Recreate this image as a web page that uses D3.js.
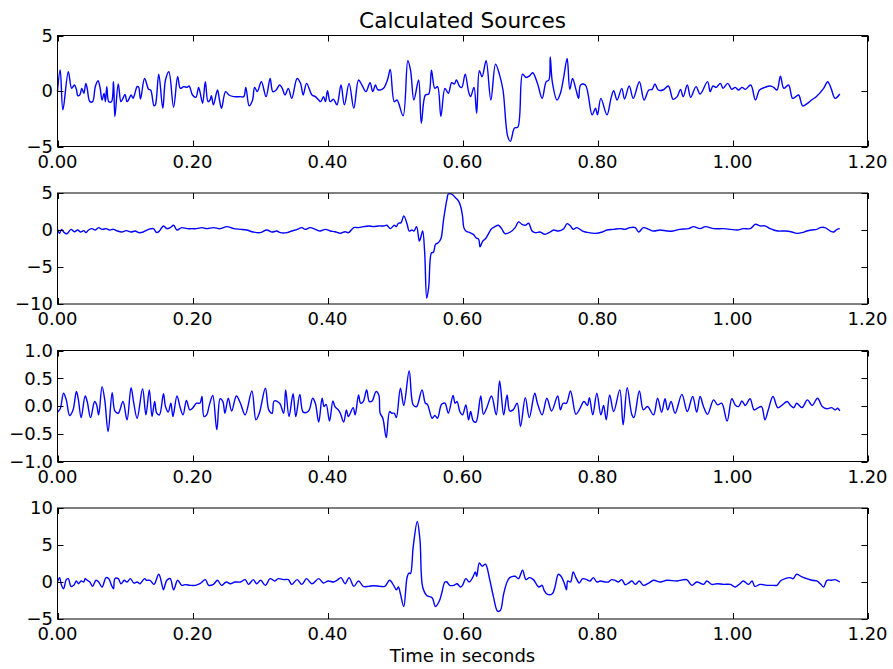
<!DOCTYPE html>
<html>
<head>
<meta charset="utf-8">
<script src="https://cdn.jsdelivr.net/npm/d3@7"></script>
<style>
  body { margin: 0; background: #fff; }
  svg text { font-family: "DejaVu Sans", sans-serif; fill: #000; }
</style>
</head>
<body>
<div id="chart"></div>
<script>
// ---- data ----
const titleText = "Calculated Sources";
const xLabelText = "Time in seconds";
const xTicks = [0, 0.2, 0.4, 0.6, 0.8, 1.0, 1.2];

const src1T = [0.000,0.004,0.008,0.016,0.021,0.025,0.028,0.030,0.033,0.036,0.039,0.042,0.044,0.048,0.052,0.056,0.060,0.063,0.066,0.069,0.071,0.073,0.076,0.080,0.083,0.085,0.090,0.094,0.097,0.100,0.103,0.106,0.109,0.112,0.114,0.118,0.120,0.123,0.129,0.135,0.138,0.143,0.145,0.150,0.156,0.160,0.165,0.172,0.178,0.182,0.187,0.192,0.195,0.200,0.205,0.209,0.211,0.215,0.219,0.223,0.226,0.228,0.231,0.237,0.240,0.243,0.249,0.254,0.261,0.271,0.276,0.279,0.284,0.289,0.292,0.296,0.302,0.309,0.315,0.319,0.324,0.329,0.333,0.337,0.342,0.347,0.355,0.360,0.364,0.369,0.377,0.382,0.387,0.390,0.394,0.397,0.400,0.404,0.409,0.414,0.420,0.425,0.432,0.439,0.446,0.451,0.457,0.463,0.467,0.471,0.474,0.478,0.483,0.489,0.493,0.499,0.503,0.512,0.519,0.523,0.528,0.535,0.539,0.545,0.550,0.554,0.559,0.563,0.568,0.574,0.579,0.584,0.588,0.591,0.596,0.599,0.604,0.609,0.612,0.617,0.621,0.625,0.629,0.635,0.642,0.649,0.655,0.660,0.667,0.671,0.677,0.682,0.689,0.694,0.699,0.704,0.711,0.718,0.724,0.728,0.730,0.733,0.740,0.745,0.750,0.755,0.759,0.763,0.768,0.772,0.775,0.782,0.792,0.797,0.800,0.805,0.814,0.820,0.824,0.829,0.836,0.840,0.847,0.853,0.862,0.869,0.876,0.881,0.885,0.890,0.897,0.905,0.912,0.918,0.923,0.927,0.933,0.938,0.946,0.952,0.963,0.967,0.971,0.976,0.982,0.986,0.993,0.999,1.004,1.009,1.014,1.019,1.027,1.034,1.040,1.048,1.056,1.061,1.066,1.071,1.076,1.083,1.089,1.094,1.098,1.104,1.110,1.117,1.124,1.135,1.141,1.146,1.152,1.159];
const src1V = [0.0,1.9,-1.7,1.73,0.24,0.54,0.15,-0.42,-0.36,0.24,-0.21,0.69,0.24,-0.96,-0.96,0.39,0.93,0.33,-0.81,-0.21,-0.96,0.39,-0.96,-0.96,0.84,-2.3,0.63,-0.96,-0.66,-0.3,-0.96,-0.72,-0.36,-0.66,-0.36,0.39,0.39,-0.72,1.13,0.15,0.09,-1.34,-1.25,1.52,-1.55,0.99,1.73,-1.46,1.28,0.24,0.39,0.33,0.45,-0.36,-0.57,0.33,-0.06,-1.1,0.84,-0.96,-0.81,-0.42,-1.25,0.09,-0.81,-1.55,-0.06,-0.36,-0.51,-0.51,-0.51,0.33,-1.34,-0.81,0.33,-0.06,0.84,-0.51,1.13,-0.06,0.09,0.54,0.24,-0.36,0.24,-0.66,1.13,0.69,-0.36,0.69,-0.36,-0.51,-0.81,-0.96,-0.51,-0.96,0.03,-0.96,-0.75,-1.25,0.54,-1.25,0.69,-1.55,0.99,0.54,-0.06,0.75,-0.06,0.54,0.15,0.09,0.24,1.04,1.94,-0.96,-0.81,-2.24,2.72,1.88,-0.81,0.99,-2.9,-0.36,-0.27,1.88,0.24,0.39,-2.3,0.24,-0.21,0.75,0.63,0.99,0.39,0.33,1.52,-0.06,-0.51,0.33,-2.0,1.82,1.28,2.72,-0.81,2.42,1.43,0.09,-4.09,-4.54,-3.34,-3.25,1.52,1.22,1.34,1.64,0.69,-0.66,0.84,0.99,3.07,0.84,-0.81,-0.21,1.28,2.93,0.15,1.13,0.15,-0.66,0.54,0.54,-2.15,-1.55,-2.15,-0.66,-2.15,-0.66,0.03,-0.81,0.24,-0.72,0.45,-0.66,0.84,-0.81,0.09,0.15,0.63,0.09,0.09,0.45,-0.75,-0.51,0.15,-0.51,0.54,-0.57,0.39,-0.27,0.84,-0.06,0.45,0.33,0.69,0.24,0.69,0.15,0.33,0.09,0.33,0.15,0.54,-0.81,0.09,0.33,0.45,0.33,0.09,1.34,0.24,0.54,-0.66,-0.51,-0.36,-1.34,-1.16,-0.81,-0.51,0.24,0.84,0.24,-0.66,-0.27];

const src2T = [0.000,0.003,0.006,0.010,0.014,0.020,0.025,0.030,0.034,0.039,0.042,0.046,0.051,0.056,0.061,0.066,0.072,0.077,0.083,0.089,0.095,0.102,0.109,0.115,0.121,0.127,0.135,0.142,0.147,0.151,0.157,0.162,0.167,0.172,0.177,0.184,0.192,0.199,0.206,0.214,0.221,0.231,0.241,0.251,0.261,0.271,0.280,0.290,0.300,0.310,0.318,0.325,0.330,0.340,0.347,0.355,0.362,0.367,0.374,0.382,0.389,0.397,0.404,0.411,0.419,0.426,0.431,0.439,0.446,0.453,0.461,0.468,0.476,0.483,0.488,0.493,0.499,0.502,0.505,0.509,0.513,0.518,0.521,0.525,0.528,0.532,0.536,0.538,0.541,0.544,0.547,0.550,0.554,0.557,0.560,0.564,0.568,0.572,0.577,0.579,0.584,0.589,0.594,0.597,0.600,0.602,0.605,0.611,0.616,0.620,0.624,0.626,0.630,0.634,0.638,0.643,0.648,0.653,0.658,0.663,0.671,0.678,0.683,0.688,0.693,0.698,0.703,0.708,0.715,0.722,0.730,0.735,0.742,0.750,0.755,0.760,0.764,0.769,0.774,0.778,0.787,0.797,0.807,0.814,0.824,0.834,0.841,0.848,0.856,0.861,0.868,0.876,0.883,0.893,0.903,0.912,0.922,0.935,0.942,0.952,0.960,0.972,0.987,0.997,1.007,1.016,1.026,1.034,1.041,1.048,1.056,1.061,1.068,1.078,1.088,1.095,1.103,1.110,1.117,1.125,1.130,1.137,1.145,1.150,1.155,1.159];
const src2V = [0.09,-0.45,0.09,-0.36,-0.5,0.09,-0.23,0.0,-0.27,-0.09,-0.36,0.0,0.18,0.0,0.32,0.09,0.18,0.0,0.09,-0.14,-0.27,-0.09,-0.27,-0.14,-0.36,-0.27,0.09,0.18,-0.36,-0.14,0.55,0.18,0.32,0.64,0.0,0.32,0.18,0.18,0.18,0.32,0.18,0.32,0.18,0.45,0.18,0.09,0.0,-0.27,-0.36,0.0,-0.27,-0.14,-0.36,-0.36,-0.14,0.09,0.32,0.09,0.32,0.09,-0.14,0.09,-0.14,-0.23,-0.45,-0.23,-0.36,0.32,0.32,0.45,0.55,0.45,0.55,0.55,0.64,0.18,0.64,0.45,0.91,1.0,1.91,0.77,-0.14,0.0,-0.14,0.45,-1.5,-1.05,-0.14,-3.09,-9.23,-7.64,-3.09,-3.0,-1.95,-1.73,-1.18,1.45,4.18,4.86,4.86,4.41,3.95,3.27,1.91,0.32,-0.14,-0.36,-0.59,-1.05,-1.27,-2.27,-1.5,-1.18,-0.59,0.18,0.45,0.64,0.18,-0.5,-0.27,0.32,1.09,0.77,0.64,0.91,-0.14,-0.36,-0.27,-0.59,-0.27,0.0,-0.14,0.18,0.86,0.55,0.09,0.32,0.09,-0.14,-0.36,-0.45,-0.27,0.0,0.09,0.18,0.09,0.32,0.32,-0.27,0.32,0.09,-0.14,0.0,-0.14,-0.14,0.09,0.18,0.45,0.18,0.45,0.18,0.18,0.09,0.0,0.18,0.18,0.77,0.55,0.55,0.18,0.0,-0.14,-0.14,-0.27,-0.45,-0.36,-0.14,0.0,0.09,0.32,0.32,-0.14,-0.27,0.09,0.18];

const src3T = [0.000,0.004,0.009,0.013,0.018,0.023,0.028,0.031,0.035,0.041,0.044,0.049,0.055,0.058,0.061,0.066,0.070,0.075,0.081,0.085,0.090,0.097,0.103,0.109,0.113,0.118,0.126,0.131,0.136,0.140,0.144,0.147,0.151,0.157,0.160,0.164,0.168,0.171,0.177,0.182,0.186,0.191,0.196,0.200,0.206,0.211,0.214,0.217,0.221,0.225,0.230,0.236,0.241,0.245,0.248,0.253,0.258,0.265,0.271,0.278,0.288,0.294,0.299,0.308,0.313,0.318,0.321,0.329,0.335,0.338,0.343,0.349,0.353,0.359,0.364,0.372,0.378,0.382,0.387,0.392,0.395,0.398,0.403,0.408,0.411,0.416,0.419,0.424,0.428,0.431,0.438,0.441,0.446,0.449,0.453,0.458,0.462,0.466,0.472,0.476,0.478,0.482,0.487,0.492,0.495,0.499,0.502,0.508,0.513,0.521,0.527,0.532,0.540,0.545,0.548,0.555,0.559,0.563,0.569,0.574,0.579,0.586,0.589,0.592,0.596,0.600,0.605,0.609,0.612,0.616,0.620,0.627,0.631,0.636,0.643,0.650,0.655,0.661,0.666,0.670,0.675,0.681,0.686,0.693,0.699,0.707,0.711,0.718,0.725,0.732,0.741,0.745,0.749,0.754,0.760,0.768,0.773,0.780,0.785,0.788,0.793,0.799,0.805,0.809,0.813,0.818,0.824,0.833,0.838,0.844,0.851,0.854,0.862,0.868,0.874,0.883,0.889,0.895,0.900,0.904,0.909,0.915,0.925,0.933,0.941,0.947,0.952,0.957,0.963,0.972,0.978,0.984,0.992,0.999,1.004,1.009,1.014,1.019,1.026,1.032,1.037,1.043,1.048,1.053,1.060,1.067,1.073,1.081,1.086,1.091,1.095,1.103,1.111,1.118,1.126,1.133,1.140,1.147,1.152,1.156,1.159];
const src3V = [-0.11,-0.05,0.23,0.11,-0.17,-0.07,0.26,0.11,-0.21,0.18,0.08,-0.21,0.08,0.02,-0.16,0.35,0.11,-0.46,0.24,-0.09,-0.13,0.08,-0.25,0.33,0.05,-0.22,0.31,-0.16,0.29,-0.19,0.08,-0.13,-0.16,0.22,-0.01,-0.11,0.05,-0.19,0.18,-0.04,-0.16,0.1,-0.07,-0.04,0.05,0.05,0.17,-0.19,-0.16,0.02,0.19,-0.43,0.13,0.08,-0.13,0.14,-0.09,0.18,0.05,-0.16,0.27,-0.25,-0.13,0.32,-0.07,-0.13,0.09,0.05,-0.13,0.29,-0.19,0.22,-0.19,0.21,-0.11,-0.09,0.14,0.05,-0.29,0.14,-0.01,0.03,-0.27,0.09,-0.01,-0.07,-0.13,-0.29,-0.07,-0.19,-0.03,-0.16,0.2,0.05,0.08,0.29,0.08,0.09,0.26,0.2,-0.13,-0.22,-0.57,-0.1,-0.13,-0.13,-0.21,0.32,0.01,0.63,0.02,-0.01,0.29,0.05,0.03,-0.22,-0.17,-0.22,0.03,0.05,-0.13,0.19,0.05,0.08,-0.1,-0.16,0.02,-0.25,-0.1,-0.27,-0.29,0.18,-0.15,-0.03,0.18,-0.16,0.45,-0.16,0.2,-0.09,-0.07,0.05,-0.37,0.15,-0.21,0.23,0.05,-0.16,0.14,-0.09,0.18,-0.07,0.05,0.05,0.27,-0.15,-0.07,0.08,0.01,0.15,-0.16,0.23,-0.16,0.01,-0.25,0.2,-0.1,0.29,-0.34,0.33,-0.16,-0.21,0.27,-0.07,-0.01,-0.16,0.14,-0.11,0.13,-0.07,0.08,-0.13,0.21,-0.1,0.17,-0.11,0.17,-0.01,-0.15,0.11,0.02,0.05,-0.27,0.13,0.02,-0.01,0.09,0.01,0.13,-0.07,-0.04,-0.01,-0.25,-0.07,0.17,-0.03,0.01,0.08,0.01,-0.03,0.05,-0.03,0.11,0.01,0.14,-0.01,-0.05,-0.03,-0.07,-0.04,-0.09];

const src4T = [0.000,0.003,0.006,0.009,0.013,0.016,0.020,0.024,0.028,0.031,0.035,0.039,0.041,0.044,0.048,0.052,0.057,0.061,0.066,0.072,0.076,0.080,0.083,0.085,0.090,0.094,0.099,0.103,0.108,0.113,0.118,0.122,0.129,0.132,0.137,0.143,0.150,0.155,0.157,0.162,0.167,0.172,0.178,0.184,0.189,0.197,0.204,0.211,0.219,0.224,0.231,0.237,0.243,0.250,0.256,0.263,0.271,0.278,0.283,0.290,0.295,0.301,0.308,0.315,0.322,0.327,0.335,0.342,0.347,0.355,0.362,0.369,0.377,0.387,0.394,0.401,0.409,0.414,0.420,0.426,0.432,0.439,0.446,0.453,0.461,0.468,0.478,0.485,0.492,0.498,0.502,0.505,0.508,0.513,0.518,0.521,0.523,0.527,0.533,0.537,0.541,0.547,0.555,0.560,0.566,0.569,0.574,0.577,0.581,0.587,0.592,0.597,0.600,0.605,0.610,0.615,0.619,0.621,0.625,0.629,0.634,0.640,0.646,0.652,0.656,0.661,0.666,0.670,0.678,0.683,0.689,0.694,0.699,0.705,0.713,0.718,0.721,0.726,0.733,0.737,0.742,0.746,0.751,0.754,0.756,0.760,0.764,0.768,0.773,0.778,0.784,0.789,0.794,0.799,0.804,0.811,0.816,0.821,0.826,0.831,0.836,0.841,0.846,0.851,0.856,0.862,0.868,0.876,0.883,0.893,0.903,0.918,0.932,0.940,0.947,0.957,0.962,0.969,0.977,0.987,0.997,1.004,1.011,1.016,1.024,1.029,1.033,1.041,1.051,1.061,1.066,1.071,1.078,1.085,1.090,1.095,1.103,1.110,1.118,1.125,1.130,1.135,1.140,1.147,1.152,1.159];
const src4V = [0.0,0.59,-0.45,-0.91,0.32,0.45,-0.59,-0.45,0.14,-0.23,0.14,0.0,0.45,0.23,0.0,-0.59,0.23,0.0,-0.68,0.59,0.45,-0.45,-0.91,0.45,0.45,-0.23,0.23,0.0,0.45,-0.14,0.0,-0.23,0.45,0.23,0.23,-0.32,1.05,-0.45,-1.05,0.23,0.45,-1.05,0.23,-0.45,-0.36,-0.45,-0.45,-0.23,0.32,-0.45,-0.32,0.23,-0.45,0.0,-0.23,0.0,0.0,0.32,-0.32,0.32,-0.23,0.23,-0.45,0.45,0.14,0.45,0.32,0.32,-0.32,0.32,-0.32,0.45,-0.23,0.45,-0.14,0.14,0.0,0.23,0.59,-0.23,0.59,-0.59,0.14,-0.59,-0.59,-0.5,-0.59,-0.59,0.23,-0.45,-1.05,-0.68,-1.59,-3.32,0.68,1.23,1.14,4.77,8.18,5.68,-0.68,-1.82,-2.14,-3.32,-2.5,-1.59,0.0,0.0,-0.45,-0.45,-0.23,-0.68,-0.45,0.45,0.0,0.59,1.36,0.77,2.59,2.14,2.41,0.45,-2.05,-3.95,-3.86,-1.59,0.0,0.59,0.77,0.45,1.59,0.32,0.59,0.32,-0.68,-0.45,-1.14,-1.68,-1.59,-0.68,1.05,0.77,-0.23,-1.05,0.14,0.0,1.36,0.59,-0.14,0.45,0.32,0.14,0.59,0.0,0.14,0.0,0.0,0.32,0.23,0.0,0.32,-0.36,-0.14,0.14,-0.32,0.14,-0.45,-0.14,0.23,0.0,0.23,0.14,0.32,-0.45,0.0,-0.32,0.14,-0.32,-0.23,-0.32,-0.32,-0.68,-0.23,0.14,-0.32,0.14,-0.59,-0.32,-0.45,-0.45,-0.45,0.14,0.45,0.59,0.45,1.05,0.68,0.45,0.23,0.14,-0.23,-0.68,0.23,0.23,0.32,0.0];

const panelDomains = [[-5, 5], [-10, 5], [-1, 1], [-5, 10]];
const panelTicks = [[-5, 0, 5], [-10, -5, 0, 5], [-1, -0.5, 0, 0.5, 1], [-5, 0, 5, 10]];
const panelFormats = ["d", "d", ".1f", "d"];

// ---- layout ----
const W = 893, H = 669;
const axLeft = 57.5, axRight = 867.5;
const axTops = [35.5, 193, 350.5, 508];
const axH = 111;
const tickLen = 6;

const series = [[src1T, src1V], [src2T, src2V], [src3T, src3V], [src4T, src4V]];

const svg = d3.select("#chart").append("svg")
  .attr("width", W)
  .attr("height", H);

const x = d3.scaleLinear().domain([0, 1.2]).range([axLeft, axRight]);

// minus sign like matplotlib
const fixMinus = s => s.replace("-", "\u2212");

series.forEach(function(s, i) {
  const top = axTops[i], bottom = top + axH;
  const y = d3.scaleLinear().domain(panelDomains[i]).range([bottom, top]);
  const fmt = d3.format(panelFormats[i]);
  const g = svg.append("g").attr("class", "panel");

  const pts = s[0].map((t, k) => [t, s[1][k]]);
  const line = d3.line()
    .x(d => x(d[0]))
    .y(d => y(d[1]))
    .curve(d3.curveCatmullRom.alpha(0.5));

  g.append("path")
    .datum(pts)
    .attr("fill", "none")
    .attr("stroke", "#0000ff")
    .attr("stroke-width", 1.4)
    .attr("stroke-linejoin", "round")
    .attr("d", line);

  // inward ticks on all four sides
  const ticks = g.append("g").attr("stroke", "#000").attr("stroke-width", 1);
  xTicks.forEach(function(t) {
    const px = Math.round(x(t)) + 0.5;
    ticks.append("line").attr("x1", px).attr("x2", px).attr("y1", bottom).attr("y2", bottom - tickLen);
    ticks.append("line").attr("x1", px).attr("x2", px).attr("y1", top).attr("y2", top + tickLen);
  });
  panelTicks[i].forEach(function(v) {
    const py = Math.round(y(v)) + 0.5;
    ticks.append("line").attr("x1", axLeft).attr("x2", axLeft + tickLen).attr("y1", py).attr("y2", py);
    ticks.append("line").attr("x1", axRight).attr("x2", axRight - tickLen).attr("y1", py).attr("y2", py);
  });

  g.append("rect")
    .attr("x", axLeft).attr("y", top)
    .attr("width", axRight - axLeft).attr("height", axH)
    .attr("fill", "none")
    .attr("stroke", "#000")
    .attr("stroke-width", 1);

  g.selectAll(".xlab")
    .data(xTicks)
    .enter().append("text")
    .attr("class", "xlab")
    .attr("x", d => x(d))
    .attr("y", bottom + 21)
    .attr("text-anchor", "middle")
    .style("font-size", "18px")
    .text(d => d3.format(".2f")(d));

  g.selectAll(".ylab")
    .data(panelTicks[i])
    .enter().append("text")
    .attr("class", "ylab")
    .attr("x", axLeft - 4.5)
    .attr("y", d => y(d))
    .attr("dy", "0.36em")
    .attr("text-anchor", "end")
    .style("font-size", "18px")
    .text(d => fixMinus(fmt(d)));
});

svg.append("text")
  .attr("x", (axLeft + axRight) / 2)
  .attr("y", 28)
  .attr("text-anchor", "middle")
  .style("font-size", "21.6px")
  .text(titleText);

svg.append("text")
  .attr("x", (axLeft + axRight) / 2)
  .attr("y", 662)
  .attr("text-anchor", "middle")
  .style("font-size", "18px")
  .text(xLabelText);
</script>
</body>
</html>
